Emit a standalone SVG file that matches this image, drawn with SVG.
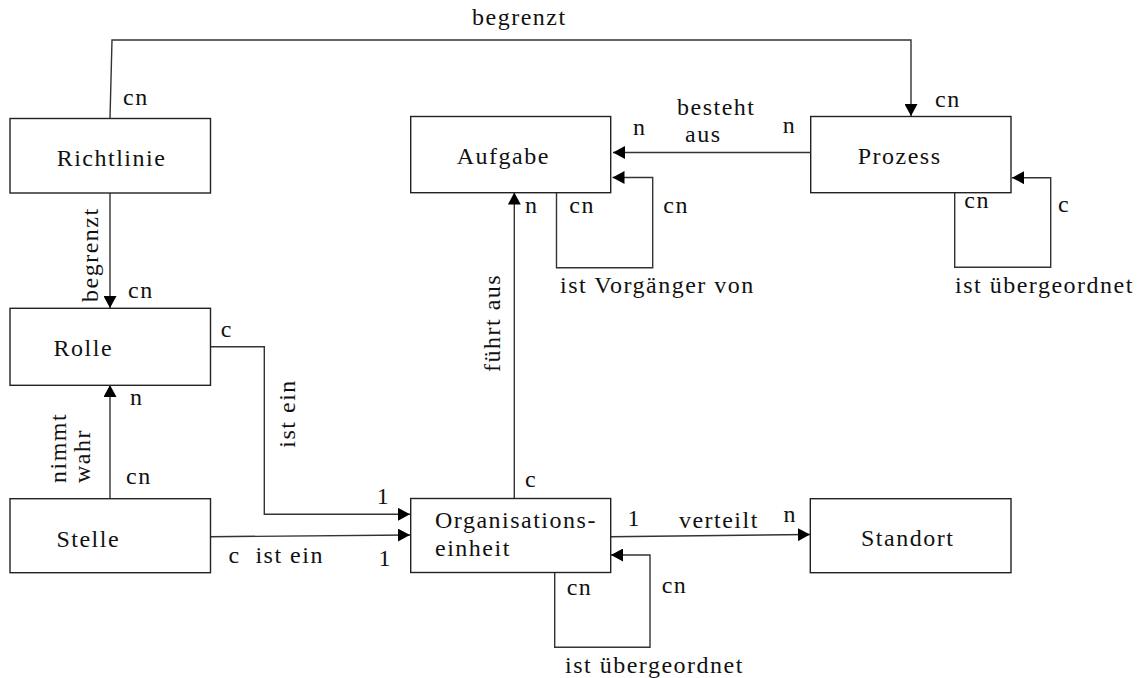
<svg xmlns="http://www.w3.org/2000/svg" width="1137" height="678" viewBox="0 0 1137 678">
<style>
.box{fill:#fff;stroke:#222;stroke-width:1.4}
.ln{fill:none;stroke:#333;stroke-width:1.4}
.t{font-family:"Liberation Serif","Times New Roman",serif;font-size:24px;letter-spacing:1.5px;fill:#111}
</style>
<defs>
<marker id="ah" viewBox="0 0 12 13" refX="12" refY="6.5" markerWidth="12" markerHeight="13" markerUnits="userSpaceOnUse" orient="auto">
<path d="M0,0 L12,6.5 L0,13 z" fill="#000"/>
</marker>
</defs>
<rect width="1137" height="678" fill="#fff"/>
<g id="connectors">
<polyline class="ln" points="110,118.5 112,40 911,40 911,116" marker-end="url(#ah)"/>
<line class="ln" x1="110" y1="193" x2="110" y2="308" marker-end="url(#ah)"/>
<line class="ln" x1="110" y1="499" x2="110" y2="385" marker-end="url(#ah)"/>
<polyline class="ln" points="210.5,346.7 264.3,346.7 264.3,514.3 410,514.3" marker-end="url(#ah)"/>
<line class="ln" x1="210.5" y1="536.7" x2="410" y2="535" marker-end="url(#ah)"/>
<line class="ln" x1="514.3" y1="498.5" x2="514.3" y2="192.5" marker-end="url(#ah)"/>
<polyline class="ln" points="556.5,192.7 556.5,267.7 652.7,267.7 652.7,177.5 612.5,177.5" marker-end="url(#ah)"/>
<line class="ln" x1="810.7" y1="152.5" x2="613" y2="152.5" marker-end="url(#ah)"/>
<polyline class="ln" points="954.7,192.7 954.7,267.3 1050.7,267.3 1050.7,177.7 1012,177.7" marker-end="url(#ah)"/>
<line class="ln" x1="610.7" y1="536.7" x2="810" y2="534.5" marker-end="url(#ah)"/>
<polyline class="ln" points="554.7,572.5 554.7,647.3 650,647.3 650,555 611,555" marker-end="url(#ah)"/>
</g>
<g id="labels">
<text class="t" x="472" y="25">begrenzt</text>
<text class="t" x="123" y="105">cn</text>
<text class="t" x="935" y="107">cn</text>
<text class="t" transform="translate(98.4,302) rotate(-90)">begrenzt</text>
<text class="t" x="128" y="298">cn</text>
<text class="t" x="130" y="405">n</text>
<text class="t" x="126" y="484">cn</text>
<text class="t" transform="translate(66,483) rotate(-90)">nimmt</text>
<text class="t" transform="translate(89.5,483) rotate(-90)">wahr</text>
<text class="t" x="220.7" y="337">c</text>
<text class="t" transform="translate(294.5,447.7) rotate(-90)">ist ein</text>
<text class="t" x="376.8" y="504">1</text>
<text class="t" x="228.6" y="563.3">c</text>
<text class="t" x="255.4" y="563.3">ist ein</text>
<text class="t" x="378.6" y="565.7">1</text>
<text class="t" x="525" y="213.3">n</text>
<text class="t" x="525" y="486.7">c</text>
<text class="t" transform="translate(500,372) rotate(-90)">führt aus</text>
<text class="t" x="569.3" y="213.3">cn</text>
<text class="t" x="663.3" y="213.3">cn</text>
<text class="t" x="560" y="293">ist Vorgänger von</text>
<text class="t" x="633" y="135">n</text>
<text class="t" x="677" y="115">besteht</text>
<text class="t" x="685" y="141.7">aus</text>
<text class="t" x="782.7" y="133.3">n</text>
<text class="t" x="964.3" y="208.3">cn</text>
<text class="t" x="1058" y="211.7">c</text>
<text class="t" x="955" y="293.3">ist übergeordnet</text>
<text class="t" x="627.4" y="526">1</text>
<text class="t" x="678.9" y="527.7">verteilt</text>
<text class="t" x="783.4" y="522.3">n</text>
<text class="t" x="566.7" y="595">cn</text>
<text class="t" x="661.7" y="593.3">cn</text>
<text class="t" x="565" y="673.3">ist übergeordnet</text>
</g>
<g id="richtlinie"><rect class="box" x="10" y="118.5" width="200.5" height="74.5"/><text class="t" x="56.7" y="165.7">Richtlinie</text></g>
<g id="aufgabe"><rect class="box" x="410.7" y="116.5" width="200" height="76.2"/><text class="t" x="456.7" y="164.3">Aufgabe</text></g>
<g id="prozess"><rect class="box" x="810.7" y="116.5" width="200.3" height="76.2"/><text class="t" x="857.7" y="164">Prozess</text></g>
<g id="rolle"><rect class="box" x="10" y="308.3" width="200.5" height="77"/><text class="t" x="53.6" y="356">Rolle</text></g>
<g id="stelle"><rect class="box" x="10" y="498.7" width="200.5" height="74"/><text class="t" x="56.4" y="546.7">Stelle</text></g>
<g id="organisationseinheit"><rect class="box" x="410.7" y="498.5" width="200" height="74"/><text class="t" x="435" y="527.7">Organisations-</text><text class="t" x="435" y="556">einheit</text></g>
<g id="standort"><rect class="box" x="810.3" y="498.7" width="200.7" height="74"/><text class="t" x="861" y="546">Standort</text></g>
</svg>
